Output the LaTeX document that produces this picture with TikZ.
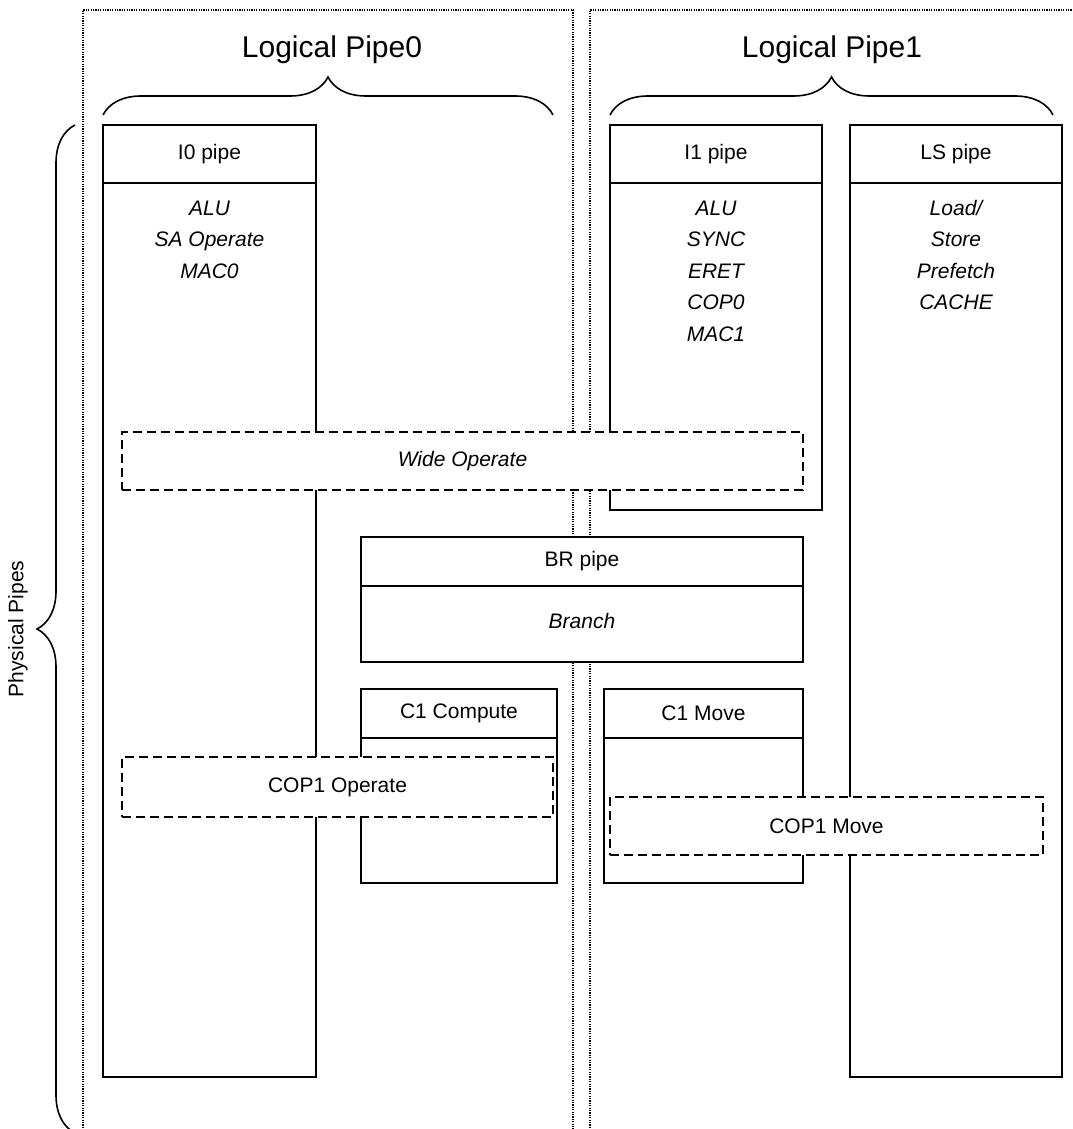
\documentclass[tikz,border=0pt]{standalone}
\usepackage{fontspec}
\setmainfont{Liberation Sans}
\usetikzlibrary{fit, decorations.pathreplacing}

\tikzset{
  pipe/.style={rectangle, draw, fill=white, line width=0.9pt, inner sep=0pt},
  shared/.style={pipe, dash pattern=on 4.5pt off 2.5pt},
  txt/.style={inner sep=0pt, font=\fontsize{10.5}{12}\selectfont},
  op/.style={txt, anchor=base, font=\fontsize{10.5}{12}\selectfont\itshape},
  lframe/.style={line width=1.2pt, dash pattern=on 0.6pt off 0.6pt},
  grp/.style={decorate, decoration={brace, amplitude=19pt}, line width=0.8pt},
  title/.style={inner sep=0pt, font=\fontsize{15}{18}\selectfont}
}

\begin{document}
\begin{tikzpicture}[x=0.5pt, y=-0.5pt]
  \useasboundingbox (0,0) rectangle (1072,1129);

  % the two logical pipes
  \draw[lframe] (83,1140) -- (83,10) -- (573,10) -- (573,1140);
  \draw[lframe] (590,1140) -- (590,10) -- (1090,10) -- (1090,1140);
  \node[title] (lp0) at (332,50) {Logical Pipe0};
  \node[title] (lp1) at (832,50) {Logical Pipe1};
  \draw[grp] (103,115) -- (553,115);
  \draw[grp] (610,115) -- (1053,115);

  % physical pipes
  \draw[grp] (75,1133) -- (75,125);
  \node[txt, rotate=90] (phys) at (18,629) {Physical Pipes};

  % I0 pipe
  \node[pipe, fit={(103,125) (316,1077)}] (i0) {};
  \node[pipe, fit={(103,125) (316,183)}, label={[txt]center:I0 pipe}] (i0hdr) {};
  \foreach \lbl [count=\k from 0] in {ALU, SA Operate, MAC0}
    \node[op] (i0op\k) at (209.5, 215+31.5*\k) {\lbl};

  % I1 pipe
  \node[pipe, fit={(610,125) (822,510)}] (i1) {};
  \node[pipe, fit={(610,125) (822,183)}, label={[txt]center:I1 pipe}] (i1hdr) {};
  \foreach \lbl [count=\k from 0] in {ALU, SYNC, ERET, COP0, MAC1}
    \node[op] (i1op\k) at (716, 215+31.5*\k) {\lbl};

  % LS pipe
  \node[pipe, fit={(850,125) (1062,1077)}] (ls) {};
  \node[pipe, fit={(850,125) (1062,183)}, label={[txt]center:LS pipe}] (lshdr) {};
  \foreach \lbl [count=\k from 0] in {Load/, Store, Prefetch, CACHE}
    \node[op] (lsop\k) at (956, 215+31.5*\k) {\lbl};

  % BR pipe
  \node[pipe, fit={(361,537) (803,662)}] (br) {};
  \node[pipe, fit={(361,537) (803,586)}, label={[txt]center:BR pipe}] (brhdr) {};
  \node[op] (brop) at (582,628) {Branch};

  % C1 pipes
  \node[pipe, fit={(361,689) (557,883)}] (c1c) {};
  \node[pipe, fit={(361,689) (557,738)}, label={[txt]center:C1 Compute}] (c1chdr) {};
  \node[pipe, fit={(604,689) (803,883)}] (c1m) {};
  \node[pipe, fit={(604,689) (803,738)}, label={[txt]center:C1 Move}] (c1mhdr) {};

  % ops issued across several pipes
  \node[shared, fit={(122,432) (803,490)},
    label={[txt, font=\fontsize{10.5}{12}\selectfont\itshape]center:Wide Operate}] (wideop) {};
  \node[shared, fit={(122,757) (553,817)}, label={[txt]center:COP1 Operate}] (cop1op) {};
  \node[shared, fit={(610,797) (1043,855)}, label={[txt]center:COP1 Move}] (cop1mv) {};
\end{tikzpicture}
\end{document}
